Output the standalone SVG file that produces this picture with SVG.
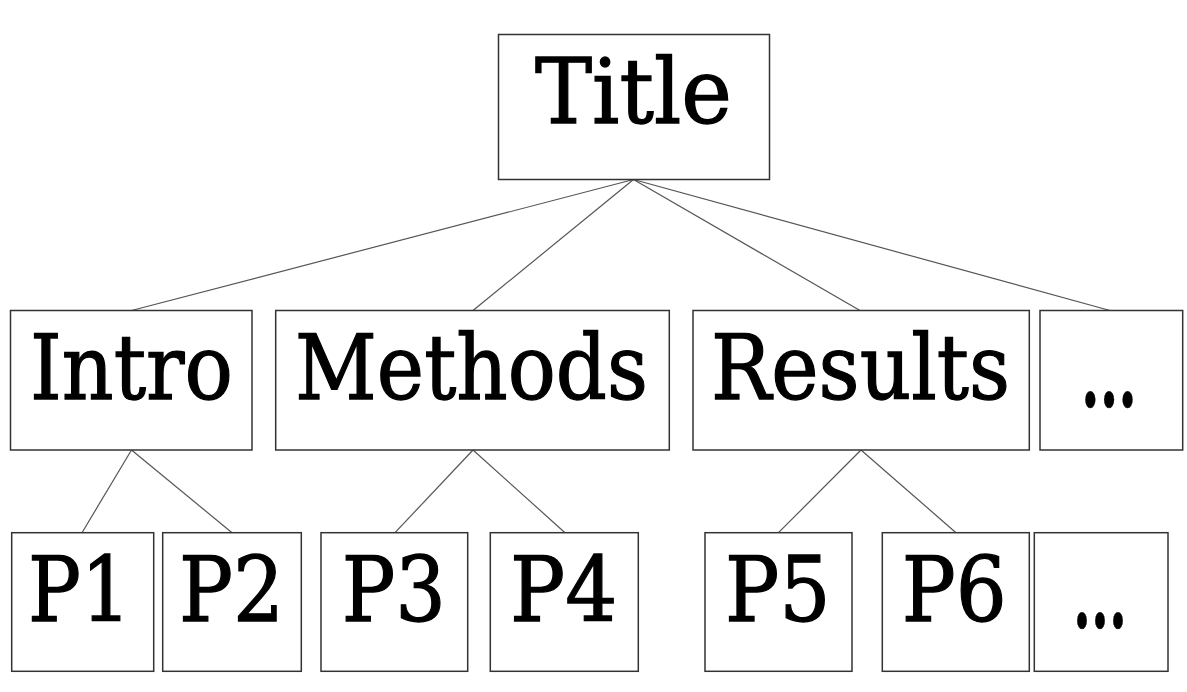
<svg xmlns="http://www.w3.org/2000/svg" width="1187" height="692" viewBox="0 0 1187 692">
<style>
.box{fill:#fff;stroke:#333;stroke-width:1.5}
.lbl{font-family:"DejaVu Serif","Liberation Serif",serif;font-size:90px;fill:#000;stroke:#000;stroke-width:1.3}
.dots{font-weight:bold;stroke-width:0.5}
.edge{stroke:#555;stroke-width:1.2;fill:none}
</style>
<rect width="1187" height="692" fill="#fff"/>
<g id="connectors">
<line class="edge" x1="633.5" y1="179.5" x2="131.5" y2="310.5"/>
<line class="edge" x1="633.5" y1="179.5" x2="473" y2="310.5"/>
<line class="edge" x1="633.5" y1="179.5" x2="860" y2="310.5"/>
<line class="edge" x1="633.5" y1="179.5" x2="1110" y2="310.5"/>
<line class="edge" x1="131.5" y1="450" x2="82" y2="532.7"/>
<line class="edge" x1="131.5" y1="450" x2="232" y2="532.7"/>
<line class="edge" x1="473" y1="450" x2="395" y2="532.7"/>
<line class="edge" x1="473" y1="450" x2="565" y2="532.7"/>
<line class="edge" x1="861" y1="450" x2="778.5" y2="532.7"/>
<line class="edge" x1="861" y1="450" x2="956" y2="532.7"/>
</g>
<g id="title"><rect class="box" x="498.5" y="34.5" width="271" height="145"/><text class="lbl" x="535" y="123" textLength="197" lengthAdjust="spacingAndGlyphs">Title</text></g>
<g id="intro"><rect class="box" x="10.5" y="310.5" width="241.5" height="139.5"/><text class="lbl" x="30" y="399" textLength="203" lengthAdjust="spacingAndGlyphs">Intro</text></g>
<g id="methods"><rect class="box" x="275.7" y="310.5" width="393.6" height="139.5"/><text class="lbl" x="295" y="399" textLength="353" lengthAdjust="spacingAndGlyphs">Methods</text></g>
<g id="results"><rect class="box" x="693" y="310.5" width="336.3" height="139.5"/><text class="lbl" x="711" y="399" textLength="299" lengthAdjust="spacingAndGlyphs">Results</text></g>
<g id="more1"><rect class="box" x="1040" y="310.5" width="142.7" height="139.5"/><text class="lbl dots" x="1081" y="407" textLength="56" lengthAdjust="spacingAndGlyphs">...</text></g>
<g id="p1"><rect class="box" x="11.7" y="532.7" width="142" height="138.6"/><text class="lbl" x="28" y="621" textLength="103" lengthAdjust="spacingAndGlyphs">P1</text></g>
<g id="p2"><rect class="box" x="162.7" y="532.7" width="138.6" height="138.6"/><text class="lbl" x="179" y="621" textLength="105" lengthAdjust="spacingAndGlyphs">P2</text></g>
<g id="p3"><rect class="box" x="321" y="532.7" width="146.7" height="138.6"/><text class="lbl" x="341.7" y="621" textLength="104.3" lengthAdjust="spacingAndGlyphs">P3</text></g>
<g id="p4"><rect class="box" x="490.3" y="532.7" width="148" height="138.6"/><text class="lbl" x="510" y="621" textLength="107.3" lengthAdjust="spacingAndGlyphs">P4</text></g>
<g id="p5"><rect class="box" x="705" y="532.7" width="147" height="138.6"/><text class="lbl" x="725" y="621" textLength="105.7" lengthAdjust="spacingAndGlyphs">P5</text></g>
<g id="p6"><rect class="box" x="882.3" y="532.7" width="147" height="138.6"/><text class="lbl" x="901.7" y="621" textLength="105" lengthAdjust="spacingAndGlyphs">P6</text></g>
<g id="more2"><rect class="box" x="1034.3" y="532.7" width="133.7" height="138.6"/><text class="lbl dots" x="1073" y="628" textLength="54" lengthAdjust="spacingAndGlyphs">...</text></g>
</svg>
